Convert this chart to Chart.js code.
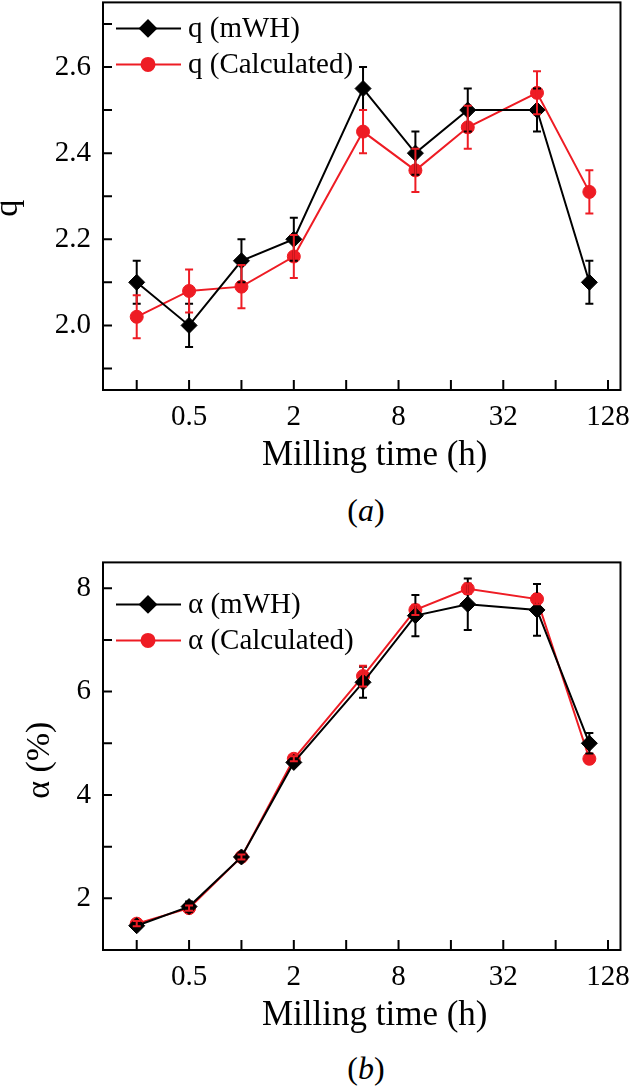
<!DOCTYPE html>
<html>
<head>
<meta charset="UTF-8">
<title>q and alpha vs milling time</title>
<script src="https://cdn.jsdelivr.net/npm/chart.js@4.4.1/dist/chart.umd.min.js"></script>
<style>
	body { margin:0; background:#fff; width:640px; height:1088px; position:relative; overflow:hidden; font-family:"Liberation Serif", "Times New Roman", serif; }
	canvas { position:absolute; left:0; }
	#chartA { top:-27px; }
	#chartB { top:533px; }
	.cap { position:absolute; width:100px; text-align:center; font-size:32px; line-height:36px; color:#000; }
</style>
</head>
<body>
	<canvas id="chartA" width="640" height="505"></canvas>
	<canvas id="chartB" width="640" height="505"></canvas>
	<div class="cap" style="left:316px;top:492px">(<i>a</i>)</div>
	<div class="cap" style="left:316px;top:1050px">(<i>b</i>)</div>

	<script>
		// 데이터
		const millingTime = [0.25, 0.5, 1, 2, 5, 10, 20, 50, 100];

		const qMwh       = [2.10, 2.00, 2.15, 2.20, 2.55, 2.40, 2.50, 2.50, 2.10];
		const qMwhErr    = [0.05, 0.05, 0.05, 0.05, 0.05, 0.05, 0.05, 0.05, 0.05];
		const qCalc      = [2.02, 2.08, 2.09, 2.16, 2.45, 2.36, 2.46, 2.54, 2.31];
		const qCalcErr   = [0.05, 0.05, 0.05, 0.05, 0.05, 0.05, 0.05, 0.05, 0.05];

		const alphaMwh     = [1.47, 1.84, 2.80, 4.63, 6.18, 7.47, 7.69, 7.58, 5.00];
		const alphaMwhErr  = [0.05, 0.10, 0.05, 0.05, 0.30, 0.40, 0.50, 0.50, 0.20];
		const alphaCalc    = [1.51, 1.81, 2.80, 4.70, 6.30, 7.58, 7.99, 7.79, 4.70];
		const alphaCalcErr = [0.05, 0.05, 0.05, 0.05, 0.20, 0.10, 0.10, 0.10, 0.05];

		// 축 눈금
		const xTickLabels = [0.5, 2, 8, 32, 128];
		const xTickMarks  = [0.25, 0.5, 1, 2, 4, 8, 16, 32, 64, 128];
		const qTickLabels = [2.0, 2.2, 2.4, 2.6];
		const qTickMarks  = [1.9, 2.0, 2.1, 2.2, 2.3, 2.4, 2.5, 2.6, 2.7];
		const alphaTickLabels = [2, 4, 6, 8];
		const alphaTickMarks  = [2, 3, 4, 5, 6, 7, 8];
		const xTitle = 'Milling time (h)';

		const FONT = '"Liberation Serif", "Times New Roman", serif';
		const RED = '#ee1c24';
		Chart.defaults.font.family = FONT;
		Chart.defaults.color = '#000';

		function pts(ys) { return millingTime.map((x, i) => ({x: x, y: ys[i]})); }

		// 에러바
		const errorBars = {
			id: 'errorBars',
			afterDatasetsDraw(chart) {
				const ctx = chart.ctx, xs = chart.scales.x, ys = chart.scales.y;
				ctx.save();
				chart.data.datasets.forEach(ds => {
					ctx.strokeStyle = ds.borderColor;
					ctx.lineWidth = 2;
					ctx.beginPath();
					ds.data.forEach((p, j) => {
						const e = ds.yErr[j];
						const px = xs.getPixelForValue(p.x);
						const t = ys.getPixelForValue(p.y + e), b = ys.getPixelForValue(p.y - e);
						ctx.moveTo(px, t); ctx.lineTo(px, b);
						ctx.moveTo(px - 4, t); ctx.lineTo(px + 4, t);
						ctx.moveTo(px - 4, b); ctx.lineTo(px + 4, b);
					});
					ctx.stroke();
				});
				ctx.restore();
			}
		};

		// 테두리, 안쪽 눈금, 축 제목, 범례
		const frame = {
			id: 'frame',
			afterDraw(chart, args, o) {
				const ctx = chart.ctx, a = chart.chartArea, xs = chart.scales.x, ys = chart.scales.y;
				ctx.save();
				ctx.strokeStyle = '#000';
				ctx.lineWidth = 2;
				ctx.strokeRect(a.left, a.top, a.right - a.left, a.bottom - a.top);
				ctx.beginPath();
				o.xMarks.forEach(v => {
					const px = xs.getPixelForValue(v);
					ctx.moveTo(px, a.bottom); ctx.lineTo(px, a.bottom - 10);
				});
				o.yMarks.forEach(v => {
					const py = ys.getPixelForValue(v);
					ctx.moveTo(a.left, py); ctx.lineTo(a.left + 9, py);
				});
				ctx.stroke();

				// 축 제목 (원본 위치에 맞춤)
				ctx.fillStyle = '#000';
				ctx.textAlign = 'center';
				ctx.textBaseline = 'middle';
				ctx.font = '35px ' + FONT;
				ctx.fillText(o.xTitle, (a.left + a.right) / 2 + 13, a.bottom + 66);
				ctx.save();
				ctx.font = '34px ' + FONT;
				ctx.translate(o.yTitleX, (a.top + a.bottom) / 2 + o.yTitleShift);
				ctx.rotate(-Math.PI / 2);
				ctx.fillText(o.yTitle, 0, 0);
				ctx.restore();

				// 범례
				chart.data.datasets.forEach((ds, i) => {
					const y = a.top + o.legendTop + i * 36;
					ctx.strokeStyle = ds.borderColor;
					ctx.fillStyle = ds.backgroundColor;
					ctx.lineWidth = 2;
					ctx.beginPath();
					ctx.moveTo(a.left + 13, y); ctx.lineTo(a.left + 78, y);
					ctx.stroke();
					Chart.helpers.drawPoint(ctx, {pointStyle: ds.pointStyle, radius: ds.pointRadius, rotation: 0, borderWidth: 1}, a.left + 45, y);
					ctx.fillStyle = '#000';
					ctx.font = '29px ' + FONT;
					ctx.textAlign = 'left';
					ctx.fillText(ds.label, a.left + 85, y + 1);
				});
				ctx.restore();
			}
		};

		function makeChart(id, cfg) {
			return new Chart(id, {
				type: 'line',
				data: {
					datasets: [{
						label: cfg.names[0],
						data: pts(cfg.s1), yErr: cfg.e1,
						borderColor: '#000', backgroundColor: '#000',
						borderWidth: 2, pointStyle: 'rectRot', pointRadius: 8, pointBorderWidth: 1
					}, {
						label: cfg.names[1],
						data: pts(cfg.s2), yErr: cfg.e2,
						borderColor: RED, backgroundColor: RED,
						borderWidth: 2, pointStyle: 'circle', pointRadius: 6.5, pointBorderWidth: 1
					}]
				},
				options: {
					responsive: false,
					animation: false,
					layout: {padding: {top: 0, right: 10, left: 0, bottom: 0}},
					plugins: {
						legend: {display: false},
						tooltip: {enabled: false},
						frame: {
							xMarks: xTickMarks, yMarks: cfg.yMarks, legendTop: cfg.legendTop,
							xTitle: xTitle, yTitle: cfg.yTitle, yTitleX: cfg.yTitleX, yTitleShift: cfg.yTitleShift
						}
					},
					scales: {
						x: {
							type: 'logarithmic',
							min: 0.16, max: 151,
							afterBuildTicks: s => { s.ticks = xTickLabels.map(v => ({value: v})); },
							afterFit: s => { s.height = 88; },
							grid: {display: false, drawTicks: false},
							border: {display: false},
							ticks: {autoSkip: false, maxRotation: 0, padding: 10, font: {size: 29}, callback: v => String(v)},
							title: {display: false}
						},
						y: {
							min: cfg.yMin, max: cfg.yMax,
							afterBuildTicks: s => { s.ticks = cfg.yLabels.map(v => ({value: v})); },
							afterFit: s => { s.width = 103; },
							grid: {display: false, drawTicks: false},
							border: {display: false},
							ticks: {padding: 12, font: {size: 29}, callback: cfg.fmt},
							title: {display: false}
						}
					}
				},
				plugins: [errorBars, frame]
			});
		}

		makeChart('chartA', {
			names: ['q (mWH)', 'q (Calculated)'],
			s1: qMwh, e1: qMwhErr, s2: qCalc, e2: qCalcErr,
			yMin: 1.85, yMax: 2.75, yLabels: qTickLabels, yMarks: qTickMarks,
			fmt: v => v.toFixed(1), yTitle: 'q', yTitleX: 8, yTitleShift: 12, legendTop: 26
		});

		makeChart('chartB', {
			names: ['α (mWH)', 'α (Calculated)'],
			s1: alphaMwh, e1: alphaMwhErr, s2: alphaCalc, e2: alphaCalcErr,
			yMin: 1, yMax: 8.5, yLabels: alphaTickLabels, yMarks: alphaTickMarks,
			fmt: v => String(v), yTitle: 'α (%)', yTitleX: 40, yTitleShift: 4, legendTop: 42
		});
	</script>
</body>
</html>
